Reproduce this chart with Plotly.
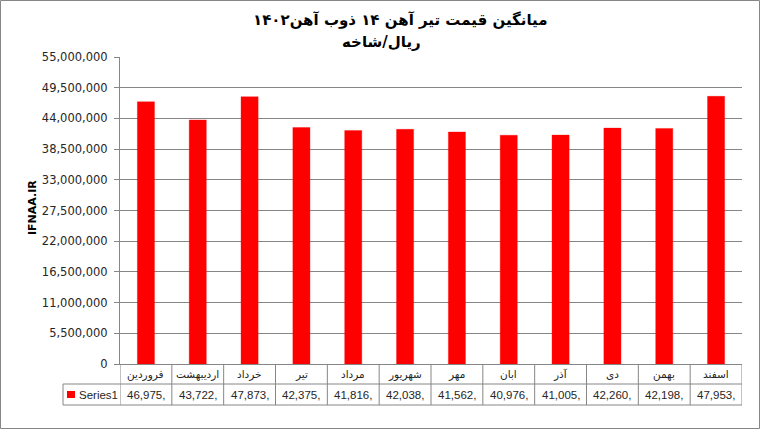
import plotly.graph_objects as go

# ---- data ----
months = ["فروردین", "اردیبهشت", "خرداد", "تیر", "مرداد", "شهریور",
          "مهر", "ابان", "آذر", "دی", "بهمن", "اسفند"]
prices = [46975000, 43722000, 47873000, 42375000, 41816000, 42038000,
          41562000, 40976000, 41005000, 42260000, 42198000, 47953000]
series_name = "Series1"
title_line1 = "میانگین قیمت تیر آهن ۱۴ ذوب آهن۱۴۰۲"
title_line2 = "ریال/شاخه"
y_title = "IFNAA.IR"

# ---- layout geometry (pixels) ----
W, H = 760, 429
L, R, T, B = 120, 742, 57, 364
pw, ph = R - L, B - T
def px(x):
    return (x - L) / pw
def py(y):
    return (B - y) / ph

GRAY = "rgb(134,134,134)"
TXT = "#262626"
FONT = "DejaVu Sans"
FONT2 = "Liberation Sans"

fig = go.Figure()
fig.add_trace(go.Bar(
    x=months, y=prices, name=series_name,
    marker=dict(color="#FF0000", line=dict(color="rgba(255,0,0,0.35)", width=1)),
    hoverinfo="x+y",
))

shapes = []
# table horizontal lines
for yy in (384, 405):
    shapes.append(dict(type="line", xref="paper", yref="paper",
                       x0=px(63), x1=px(742), y0=py(yy), y1=py(yy),
                       line=dict(color=GRAY, width=1)))
# legend cell left edge
shapes.append(dict(type="line", xref="paper", yref="paper",
                   x0=px(63), x1=px(63), y0=py(384), y1=py(405),
                   line=dict(color=GRAY, width=1)))
# category boundaries in table
for i in range(len(months) + 1):
    shapes.append(dict(type="line", xref="x", yref="paper",
                       x0=i - 0.5, x1=i - 0.5, y0=py(364), y1=py(405),
                       line=dict(color=GRAY, width=1)))
# legend key
shapes.append(dict(type="rect", xref="paper", yref="paper",
                   x0=px(67), x1=px(75), y0=py(398), y1=py(391),
                   fillcolor="#FF0000", line=dict(width=0)))
# outer border
shapes.append(dict(type="rect", xref="paper", yref="paper",
                   x0=px(0.5), x1=px(759.5), y0=py(428.5), y1=py(0.5),
                   line=dict(color=GRAY, width=1)))

def ann(x, y, text, xref="paper", size=11, family=FONT, color=TXT, **kw):
    d = dict(x=x, y=y, xref=xref, yref="paper", text=text, showarrow=False,
             xanchor=kw.pop("xanchor", "center"), yanchor="middle",
             font=dict(family=family, size=size, color=color))
    d.update(kw)
    return d

annotations = []
for m, v in zip(months, prices):
    annotations.append(ann(m, py(374), m, xref="x", size=10.5))
    annotations.append(ann(m, py(395), f"{v // 1000:,},", xref="x",
                           size=11.5, family=FONT2))
annotations.append(ann(px(77), py(395), series_name, size=11.5, family=FONT2,
                       xanchor="left"))
annotations.append(ann(px(400), py(20), "<b>" + title_line1 + "</b>",
                       size=15, color="#000000"))
annotations.append(ann(px(381), py(42), "<b>" + title_line2 + "</b>",
                       size=15, color="#000000"))
annotations.append(ann(px(32), py(208), "<b>" + y_title + "</b>",
                       size=11, color="#000000", textangle=-90))

fig.update_layout(
    width=W, height=H,
    margin=dict(l=L, r=W - R, t=T, b=H - B, pad=0),
    paper_bgcolor="white", plot_bgcolor="white",
    showlegend=False,
    bargap=0.67,
    shapes=shapes, annotations=annotations,
    xaxis=dict(type="category", range=[-0.5, len(months) - 0.5],
               showticklabels=False, showgrid=False, zeroline=False,
               showline=True, linecolor=GRAY, linewidth=1, ticks=""),
    yaxis=dict(range=[0, 55000000], dtick=5500000, tick0=0,
               tickformat=",d", showgrid=True, gridcolor=GRAY, gridwidth=1,
               zeroline=False, showline=True, linecolor=GRAY, linewidth=1,
               ticks="outside", ticklen=5, tickcolor=GRAY,
               ticklabelstandoff=4,
               tickfont=dict(family=FONT, size=11.5, color=TXT)),
)

fig.write_html("out.html", config={"displayModeBar": False},
               post_script="document.body.style.margin='0';document.body.style.overflow='hidden';")
